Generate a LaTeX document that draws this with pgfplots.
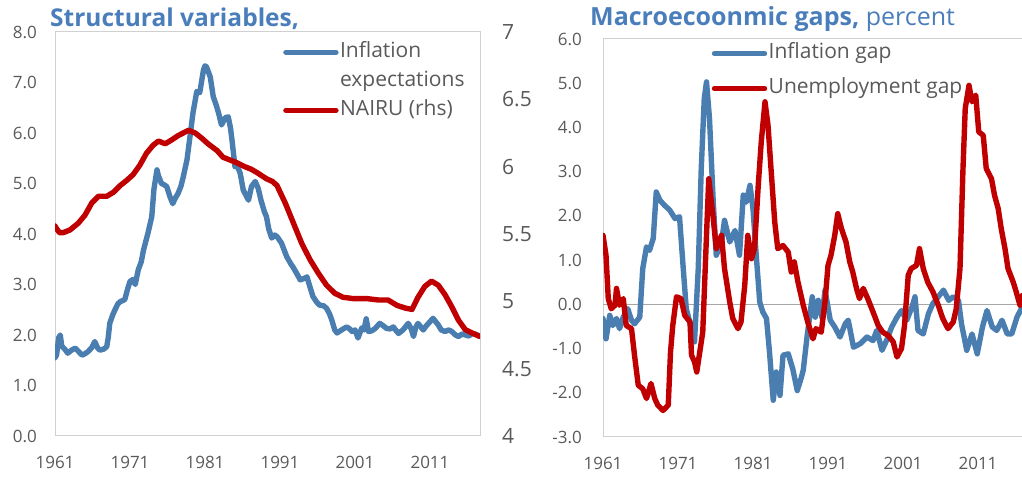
\documentclass[border=0pt]{standalone}
\usepackage{pgfplots}
\pgfplotsset{compat=1.18}
\usepackage{fontspec}
\setmainfont{Open Sans}
\definecolor{ablue}{HTML}{4A7EB0}
\definecolor{ared}{HTML}{C00000}
\definecolor{tblue}{HTML}{4A7EBB}
\definecolor{tgray}{HTML}{595959}
\definecolor{boxgray}{HTML}{D0D0D0}
\definecolor{zerogray}{HTML}{A6A6A6}

\pgfplotstableread{
yr v
1961.0 1.55
1961.2 1.6
1961.5 1.95
1961.7 2.0
1961.9 1.78
1962.3 1.72
1962.7 1.64
1963.2 1.70
1963.7 1.74
1964.1 1.68
1964.6 1.6
1965.0 1.63
1965.4 1.67
1965.9 1.75
1966.3 1.87
1966.7 1.74
1967.0 1.70
1967.5 1.72
1967.9 1.77
1968.1 1.95
1968.3 2.23
1968.7 2.40
1969.0 2.5
1969.4 2.62
1969.7 2.66
1970.3 2.7
1970.7 2.92
1971.0 3.06
1971.4 3.10
1971.7 3.0
1972.1 3.29
1972.5 3.45
1972.8 3.68
1973.4 4.02
1973.9 4.34
1974.2 4.9
1974.6 5.27
1974.8 5.15
1975.2 5.0
1975.5 4.98
1975.9 4.94
1976.3 4.75
1976.7 4.6
1977.0 4.7
1977.4 4.8
1977.8 4.95
1978.1 5.13
1978.6 5.47
1979.0 5.93
1979.4 6.4
1979.9 6.82
1980.3 6.8
1980.8 7.25
1981.0 7.33
1981.2 7.31
1981.7 7.11
1982.1 6.72
1982.5 6.55
1982.8 6.4
1983.2 6.16
1983.7 6.3
1984.1 6.32
1984.4 6.1
1984.6 5.86
1985.0 5.33
1985.3 5.35
1985.7 5.2
1986.1 4.87
1986.8 4.67
1987.2 4.94
1987.7 5.04
1988.1 4.9
1988.5 4.65
1988.9 4.45
1989.2 4.34
1989.5 4.1
1989.9 3.92
1990.3 3.98
1990.6 3.95
1991.2 3.82
1991.9 3.55
1992.4 3.42
1992.8 3.33
1993.3 3.2
1993.7 3.09
1994.2 3.12
1994.6 3.15
1995.0 2.95
1995.4 2.76
1995.9 2.65
1996.3 2.59
1996.8 2.58
1997.2 2.53
1997.6 2.42
1997.9 2.3
1998.3 2.1
1998.6 2.04
1999.2 2.1
1999.9 2.16
2000.3 2.12
2000.6 2.07
2001.0 2.1
2001.4 1.94
2001.9 2.14
2002.2 2.1
2002.5 2.32
2002.8 2.07
2003.2 2.08
2003.7 2.13
2004.3 2.23
2004.8 2.18
2005.2 2.13
2005.7 2.12
2006.1 2.16
2006.8 2.03
2007.4 2.1
2008.1 2.23
2008.5 2.12
2008.8 1.97
2009.1 2.15
2009.4 2.23
2010.1 2.1
2010.5 2.18
2010.8 2.23
2011.4 2.33
2012.1 2.2
2012.5 2.1
2013.0 2.07
2013.5 2.1
2013.9 2.07
2014.4 2.0
2014.8 1.97
2015.3 2.02
2015.7 2.0
2016.2 1.98
2016.6 2.03
2017.0 2.02
2017.6 1.98
}\inflexp

\pgfplotstableread{
yr v
1961.0 5.56
1961.2 5.54
1961.6 5.51
1962.1 5.51
1963.0 5.53
1964.1 5.58
1965.0 5.64
1965.9 5.73
1966.8 5.78
1967.9 5.78
1968.8 5.81
1969.7 5.86
1970.6 5.90
1971.4 5.94
1972.3 6.01
1973.2 6.10
1974.1 6.16
1974.8 6.19
1975.7 6.17
1976.6 6.20
1977.4 6.23
1978.1 6.25
1978.8 6.27
1979.7 6.25
1980.6 6.21
1981.4 6.17
1982.6 6.12
1983.4 6.07
1984.3 6.05
1985.2 6.03
1986.3 6.00
1987.2 5.98
1988.1 5.95
1989.2 5.91
1990.0 5.89
1990.6 5.86
1991.7 5.73
1992.8 5.58
1993.9 5.43
1995.0 5.31
1996.1 5.21
1997.2 5.12
1998.3 5.06
1999.4 5.03
2000.8 5.02
2002.6 5.02
2004.1 5.01
2005.4 5.01
2006.6 4.97
2007.7 4.95
2008.6 4.94
2009.4 5.03
2010.3 5.11
2011.2 5.15
2012.1 5.12
2013.0 5.05
2013.9 4.96
2014.8 4.86
2015.7 4.79
2016.8 4.76
2017.6 4.74
}\nairu

\pgfplotstableread{
yr v
1961.0 -0.32
1961.4 -0.78
1961.9 -0.25
1962.3 -0.48
1962.8 -0.32
1963.2 -0.55
1963.7 -0.29
1964.3 -0.10
1964.8 -0.36
1965.2 -0.44
1965.9 -0.29
1966.3 0.81
1966.8 1.30
1967.2 1.22
1967.7 1.49
1968.1 2.54
1968.6 2.35
1969.2 2.24
1969.9 2.13
1970.6 1.94
1971.2 1.98
1971.7 0.81
1972.1 -0.10
1972.8 -0.55
1973.2 -0.85
1973.7 0.81
1974.1 3.07
1974.5 4.65
1974.8 5.03
1975.2 4.20
1975.7 2.31
1976.1 1.11
1976.8 1.41
1977.2 1.90
1977.9 1.41
1978.6 1.67
1979.2 1.11
1979.7 2.47
1980.1 2.31
1980.6 2.69
1981.0 2.16
1981.4 1.18
1981.9 0.05
1982.3 -0.17
1982.8 -0.32
1983.2 -1.08
1983.7 -2.17
1984.1 -1.53
1984.6 -2.06
1985.0 -1.15
1985.7 -1.12
1986.3 -1.46
1986.9 -1.95
1987.4 -1.68
1987.7 -1.49
1988.2 -0.74
1988.9 0.17
1989.3 -0.29
1989.7 0.09
1990.2 -0.30
1990.6 0.32
1991.3 -0.36
1991.9 -0.51
1992.6 -0.74
1993.3 -0.44
1993.7 -0.36
1994.4 -0.97
1995.3 -0.89
1996.2 -0.74
1997.0 -0.82
1997.5 -0.59
1998.2 -1.04
1998.8 -0.82
1999.5 -0.51
2000.2 -0.29
2000.8 -0.14
2001.5 -0.36
2002.2 -0.06
2002.6 0.17
2003.0 -0.59
2003.7 -0.67
2004.4 -0.21
2005.0 0.02
2005.7 0.17
2006.4 0.32
2007.1 0.09
2007.7 0.17
2008.4 0.09
2008.8 -0.44
2009.5 -1.04
2010.2 -0.67
2010.9 -1.12
2011.6 -0.51
2012.2 -0.14
2012.9 -0.51
2013.5 -0.59
2014.2 -0.36
2014.9 -0.67
2015.5 -0.67
2016.2 -0.29
2016.9 -0.06
2017.6 -0.10
}\infgap

\pgfplotstableread{
yr v
1961.0 1.56
1961.4 1.11
1961.7 0.13
1962.1 -0.10
1962.6 -0.02
1962.8 0.36
1963.2 -0.02
1963.7 0.13
1964.1 -0.48
1964.8 -0.55
1965.2 -1.15
1965.7 -1.83
1966.3 -1.91
1966.8 -2.13
1967.4 -1.79
1967.9 -2.13
1968.3 -2.28
1969.0 -2.40
1969.7 -2.28
1970.0 -1.08
1970.3 -0.48
1970.8 0.17
1971.4 0.13
1971.9 -0.25
1972.6 -0.40
1972.8 -1.15
1973.2 -1.30
1973.5 -1.53
1973.9 -1.08
1974.3 -0.63
1974.8 1.56
1975.1 2.84
1975.7 1.94
1976.1 1.26
1976.8 1.56
1977.2 0.81
1977.9 0.05
1978.3 -0.32
1979.0 -0.55
1979.4 -0.40
1979.9 0.43
1980.3 1.56
1980.8 1.03
1981.2 1.26
1981.7 2.69
1982.1 3.67
1982.6 4.58
1983.0 4.05
1983.4 3.07
1983.9 1.86
1984.3 1.26
1985.0 1.33
1985.7 1.18
1986.1 0.73
1986.5 0.96
1987.0 0.50
1987.7 -0.02
1988.3 -0.40
1989.0 -0.78
1989.4 -0.55
1990.1 -0.63
1990.6 0.05
1991.0 0.88
1991.4 1.11
1991.9 1.56
1992.3 2.05
1992.8 1.71
1993.4 1.41
1993.9 0.96
1994.3 0.73
1994.8 0.36
1995.2 0.13
1995.7 0.36
1996.3 0.13
1997.0 -0.17
1997.7 -0.48
1998.3 -0.63
1999.0 -0.70
1999.7 -0.85
2000.2 -1.19
2000.8 -1.00
2001.2 -0.48
2001.7 0.66
2002.1 0.81
2002.8 0.88
2003.2 1.26
2003.7 0.81
2004.3 0.50
2005.0 0.28
2005.7 -0.02
2006.3 -0.32
2007.0 -0.55
2007.7 -0.40
2008.1 -0.10
2008.6 0.81
2009.0 3.07
2009.3 4.43
2009.8 4.95
2010.2 4.58
2010.7 4.73
2011.1 3.90
2011.7 3.82
2012.1 3.07
2012.8 2.84
2013.2 2.47
2013.7 2.16
2014.1 1.71
2014.6 1.26
2015.0 0.81
2015.7 0.50
2016.1 0.28
2016.6 -0.02
2016.9 0.20
2017.6 0.15
}\unempgap

\pgfplotsset{
  base/.style={
    scale only axis,
    axis line style={boxgray, line width=1bp},
    major tick length=0pt,
    tick style={draw=none},
    xmin=1961, xmax=2017.67,
    xtick={1961,1971,1981,1991,2001,2011},
    xticklabels={1961,1971,1981,1991,2001,2011},
    ticklabel style={font=\fontsize{17bp}{20bp}\selectfont, text=tgray, inner sep=0pt},
    xticklabel style={anchor=north, yshift=-20bp},
    /pgf/number format/assume math mode=true,
    legend cell align=left,
    legend style={draw=none, fill=none, inner sep=0pt, outer sep=0pt,
      font=\fontsize{21bp}{24bp}\selectfont, text=tgray,
      nodes={inner sep=1.5bp, text height=15bp, text depth=5bp}},
    legend image code/.code={\draw[#1, line cap=round] (0bp,0bp) -- (50bp,0bp);},
  },
  ln/.style={line width=5.4bp, line join=round, line cap=round},
}

\begin{document}
\begin{tikzpicture}[x=1bp,y=1bp]
\useasboundingbox (0,0) rectangle (1022,477);
\clip (0,0) rectangle (1022,477);

% ---------- left panel ----------
\begin{axis}[base, at={(55bp,41bp)}, anchor=south west,
  width=425bp, height=404bp,
  ymin=0, ymax=8, ytick={0,1,...,8},
  yticklabels={0.0,1.0,2.0,3.0,4.0,5.0,6.0,7.0,8.0},
  yticklabel style={anchor=east, xshift=-18bp},
]
\addplot[ablue, ln] table[x=yr, y=v] {\inflexp};
\end{axis}
\begin{axis}[base, at={(55bp,41bp)}, anchor=south west,
  width=425bp, height=404bp,
  axis x line=none, axis y line*=right,
  ymin=4, ymax=7, ytick={4,4.5,...,7},
  yticklabels={4,4.5,5,5.5,6,6.5,7},
  yticklabel style={anchor=west, xshift=22bp, font=\fontsize{21bp}{24bp}\selectfont},
  legend style={at={(0.537,0.978)}, anchor=north west, row sep=6bp},
]
\addlegendimage{ablue, ln}
\addlegendentry{Inflation}
\addlegendimage{empty legend}
\addlegendentry{expectations}
\addplot[ared, ln] table[x=yr, y=v] {\nairu};
\addlegendentry{NAIRU (rhs)}
\end{axis}

% ---------- right panel ----------
\begin{axis}[base, at={(603bp,40bp)}, anchor=south west,
  width=425bp, height=398bp,
  ymin=-3, ymax=6, ytick={-3,-2,...,6},
  yticklabels={-3.0,-2.0,-1.0,0.0,1.0,2.0,3.0,4.0,5.0,6.0},
  yticklabel style={anchor=east, xshift=-21bp},
  extra y ticks={0}, extra y tick labels={},
  extra y tick style={grid=major, major grid style={zerogray, line width=1bp}},
  legend style={at={(0.256,0.992)}, anchor=north west, row sep=12bp},
]
\addplot[ablue, ln] table[x=yr, y=v] {\infgap};
\addlegendentry{Inflation gap}
\addplot[ared, ln] table[x=yr, y=v] {\unempgap};
\addlegendentry{Unemployment gap}
\end{axis}

\node[anchor=base west, inner sep=0, text=tblue, font=\fontsize{24.5bp}{28bp}\selectfont\bfseries] at (50,450) {Structural variables,};
\node[anchor=base west, inner sep=0, text=tblue, font=\fontsize{25bp}{28bp}\selectfont] at (590,451) {\textbf{Macroecoonmic gaps,} percent};
\end{tikzpicture}
\end{document}
